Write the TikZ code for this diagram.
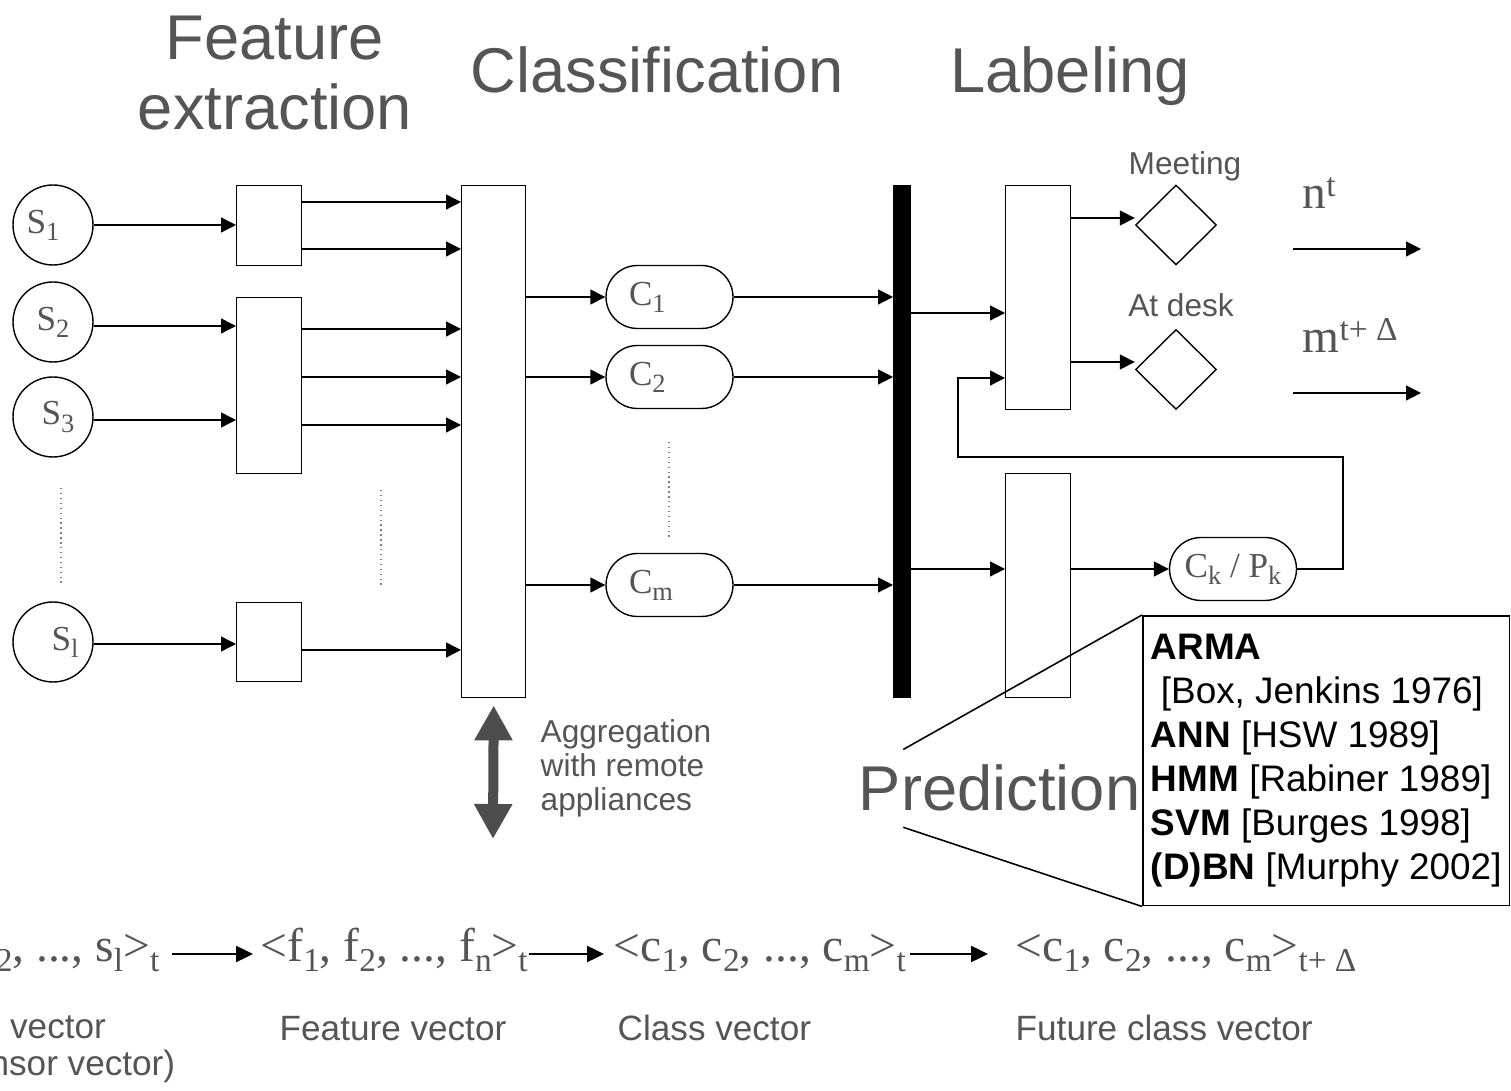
\documentclass[tikz,border=0pt]{standalone}
\usepackage{fontspec}
\setmainfont{Liberation Sans}
\newfontfamily\tnr{Liberation Serif}
\usepackage{xcolor}
\usepackage{tikz}
\usetikzlibrary{positioning, shapes.geometric, arrows.meta, calc}

\definecolor{txtgray}{RGB}{85,85,85}
\definecolor{agggray}{RGB}{77,77,77}

\newcommand\lo[1]{\raisebox{-2.6pt}{\fontsize{9.5}{10}\selectfont #1}}
\newcommand\los[1]{\raisebox{-2pt}{\fontsize{7.5}{8}\selectfont #1}}
\newcommand\hi[1]{\raisebox{3.5pt}{\fontsize{9.5}{10}\selectfont #1}}

\begin{document}
\begin{tikzpicture}[
  x=0.1mm, y=-0.1mm,
  sensor/.style={
    circle, draw=black, line width=0.4pt, minimum size=8mm, inner sep=0pt,
    font=\tnr\fontsize{10}{12}\selectfont, text=txtgray
  },
  box/.style 2 args={
    rectangle, draw=black, line width=0.4pt, anchor=north west, inner sep=0pt,
    minimum width=#1, minimum height=#2
  },
  cnode/.style={
    rectangle, rounded corners=3.15mm, draw=black, line width=0.4pt,
    minimum width=12.7mm, minimum height=6.3mm, inner sep=0pt,
    font=\tnr\fontsize{10}{12}\selectfont, text=txtgray
  },
  dec/.style={
    diamond, draw=black, line width=0.4pt, minimum width=8.1mm, minimum height=8mm, inner sep=0pt
  },
  head/.style={font=\fontsize{18}{19.9}\selectfont, text=txtgray, inner sep=0pt, align=center},
  note/.style={font=\fontsize{9}{9.7}\selectfont, text=txtgray, inner sep=0pt, align=left},
  vec/.style={font=\tnr\fontsize{13.5}{15}\selectfont, text=txtgray, inner sep=0pt},
  veclabel/.style={font=\fontsize{10}{10.5}\selectfont, text=txtgray, inner sep=0pt, align=center},
  arrow/.style={
    -{Triangle[length=1.5mm,width=1.5mm]}, line width=0.4pt, draw=black
  },
  link/.style={line width=0.45pt, draw=black},
  dots/.style={densely dotted, line width=0.4pt, draw=gray},
  bigarrow/.style={
    -{Triangle[length=1.7mm,width=1.6mm]}, line width=0.7pt, draw=black
  },
  aggarrow/.style={
    {Triangle[length=3.5mm,width=3.6mm]}-{Triangle[length=3.5mm,width=3.6mm]},
    line width=1mm, draw=agggray
  }
]

\fill[white] (0,0) rectangle (1511,1091);
\useasboundingbox (0,0) rectangle (1511,1091);

% Headings
\node[head, anchor=north] (featT) at (275,15) {Feature\\extraction};
\node[head, anchor=base] (clsT) at (657,93) {Classification};
\node[head, anchor=base] (labT) at (1070,93) {Labeling};

% Sensors
\node[sensor] (sA) at (53,225) {S\los{1}\hspace*{2mm}};
\node[sensor] (sB) at (53,322) {S\los{2}};
\node[sensor] (sC) at (53,417) {\hspace*{1mm}S\los{3}};
\node[sensor] (sL) at (53,642) {\hspace*{2.4mm}S\los{l}};
\draw[dots] (61,488) -- (61,585);

% Feature extraction
\node[box={6.5mm}{8mm}] (fA) at (236,185) {};
\node[box={6.5mm}{17.6mm}] (fB) at (236,297) {};
\node[box={6.5mm}{7.9mm}] (fC) at (236,602) {};
\draw[dots] (381,490) -- (381,585);

% Classification
\node[box={6.4mm}{51.2mm}] (cls) at (461,185) {};
\node[cnode, text width=8.1mm, inner xsep=2.3mm, align=left] (cA) at (669.5,297) {C\los{1}};
\node[cnode, text width=8.1mm, inner xsep=2.3mm, align=left] (cB) at (669.5,377) {C\los{2}};
\node[cnode, text width=8.1mm, inner xsep=2.3mm, align=left] (cM) at (669.5,585) {C\los{m}};
\draw[dots] (669,442) -- (669,537);

% Aggregation
\coordinate (aggend) at (493,839);
\draw[aggarrow] ([yshift=-0.7mm]cls.south) -- (aggend);
\node[note, anchor=north west] (aggT) at (540,719) {Aggregation\\with remote\\appliances};

% Labeling
\node[box={1.7mm}{51.2mm}, fill=black] (bar) at (893,185) {};
\node[box={6.5mm}{22.4mm}] (labA) at (1005,185) {};
\node[box={6.5mm}{22.4mm}] (labB) at (1005,473) {};
\node[dec] (meet) at (1176,225) {};
\node[dec] (desk) at (1176,369.5) {};
\node[note, anchor=base] (meetT) at (1185,175) {Meeting};
\node[note, anchor=base] (deskT) at (1181,317) {At desk};
\node[cnode] (ck) at (1233,569) {C\los{k} / P\los{k}};

% Outputs
\node[vec, anchor=base west] (nt) at (1302,209) {n\hi{t}};
\node[vec, anchor=base west] (mt) at (1302,353) {m\hi{t+ Δ}};
\coordinate (nA) at (1293,249);
\coordinate (nB) at (1421,249);
\coordinate (mA) at (1293,393);
\coordinate (mB) at (1421,393);
\draw[arrow] (nA) -- (nB);
\draw[arrow] (mA) -- (mB);

% Prediction
\node[head, anchor=base east, inner ysep=1.5mm] (pred) at (1141,811) {Prediction};
\node[anchor=north west, draw=black, line width=0.5pt, inner xsep=0.8mm, inner ysep=1.85mm,
  align=left, font=\fontsize{10.5}{12.5}\selectfont, text=black] (pbox) at (1142,615) {
  \textbf{ARMA}\\
  \hspace*{1mm}[Box, Jenkins 1976]\\
  \textbf{ANN} [HSW 1989]\\
  \textbf{HMM} [Rabiner 1989]\\
  \textbf{SVM} [Burges 1998]\\
  \textbf{(D)BN} [Murphy 2002]};
\draw[link] ([xshift=4.5mm]pred.north west) -- (pbox.north west);
\draw[link] ([xshift=4.5mm]pred.south west) -- (pbox.south west);

% Sensors -> features
\draw[arrow] (sA.east) -- (fA.west |- sA.east);
\draw[arrow] (sB.east |- 0,326) -- (fB.west |- 0,326);
\draw[arrow] (sC.east |- 0,420) -- (fB.west |- 0,420);
\draw[arrow] (sL.east |- 0,644) -- (fC.west |- 0,644);

% Features -> classification
\draw[arrow] (fA.east |- 0,202) -- (cls.west |- 0,202);
\draw[arrow] (fA.east |- 0,249) -- (cls.west |- 0,249);
\draw[arrow] (fB.east |- 0,329) -- (cls.west |- 0,329);
\draw[arrow] (fB.east |- 0,377) -- (cls.west |- 0,377);
\draw[arrow] (fB.east |- 0,425) -- (cls.west |- 0,425);
\draw[arrow] (fC.east |- 0,650) -- (cls.west |- 0,650);

% Classification -> classes -> bar
\draw[arrow] (cls.east |- cA.west) -- (cA.west);
\draw[arrow] (cls.east |- cB.west) -- (cB.west);
\draw[arrow] (cls.east |- cM.west) -- (cM.west);
\draw[arrow] (cA.east) -- (bar.west |- cA.east);
\draw[arrow] (cB.east) -- (bar.west |- cB.east);
\draw[arrow] (cM.east) -- (bar.west |- cM.east);

% Bar -> labeling
\draw[arrow] (bar.east |- 0,313) -- (labA.west |- 0,313);
\draw[arrow] (bar.east |- ck.west) -- (labB.west |- ck.west);
\draw[arrow] (labA.east |- 0,218) -- (meet.west |- 0,218);
\draw[arrow] (labA.east |- 0,362) -- (desk.west |- 0,362);
\draw[arrow] (labB.east |- ck.west) -- (ck.west);

% Feedback loop
\coordinate (fbR) at (1343,457);
\coordinate (fbL) at (958,457);
\draw[arrow] (ck.east) -| (fbR) -- (fbL) |- (labA.west |- 0,378);

% Vector chain
\node[vec, anchor=base east] (svec) at (160,962) {<s\lo{1}, s\lo{2}, ..., s\lo{l}>\lo{t}};
\node[vec, anchor=base west] (fvec) at (260,962) {<f\lo{1}, f\lo{2}, ..., f\lo{n}>\lo{t}};
\node[vec, anchor=base west] (cvec) at (613,962) {<c\lo{1}, c\lo{2}, ..., c\lo{m}>\lo{t}};
\node[vec, anchor=base west] (fcvec) at (1015,962) {<c\lo{1}, c\lo{2}, ..., c\lo{m}>\lo{t+ Δ}};
\draw[bigarrow] ($(svec.base east)+(12,-8)$) -- ($(fvec.base west)+(-7,-8)$);
\draw[bigarrow] ($(fvec.base east)+(1,-8)$) -- ($(cvec.base west)+(-9,-8)$);
\draw[bigarrow] ($(cvec.base east)+(3,-8)$) -- ($(fcvec.base west)+(-27,-8)$);

\node[veclabel, anchor=north] (svecT) at (58,1015) {vector\\(sensor vector)};
\node[veclabel, anchor=base west] (fvecT) at (279,1040) {Feature vector};
\node[veclabel, anchor=base west] (cvecT) at (617,1040) {Class vector};
\node[veclabel, anchor=base west] (fcvecT) at (1015,1040) {Future class vector};

\end{tikzpicture}
\end{document}
